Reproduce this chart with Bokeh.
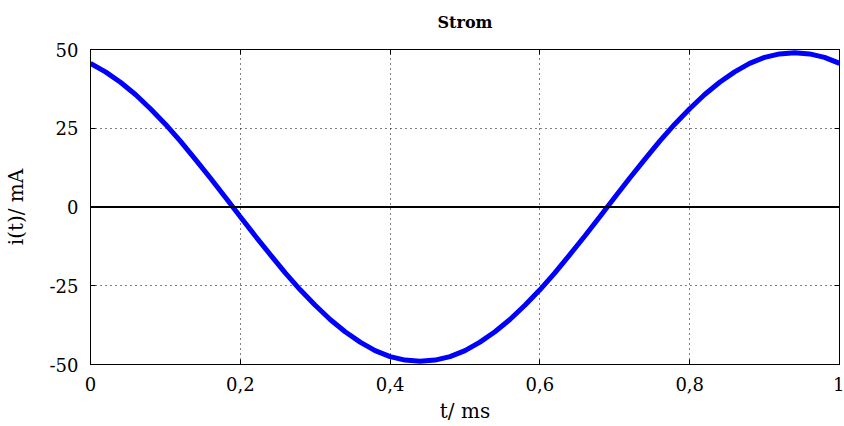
from bokeh.plotting import figure
from bokeh.models import Range1d, FixedTicker, LinearAxis, Span
from bokeh.embed import file_html
from bokeh.resources import INLINE

# Data
t_ms = [0.00, 0.02, 0.04, 0.06, 0.08, 0.10, 0.12, 0.14, 0.16, 0.18,
        0.20, 0.22, 0.24, 0.26, 0.28, 0.30, 0.32, 0.34, 0.36, 0.38,
        0.40, 0.42, 0.44, 0.46, 0.48, 0.50, 0.52, 0.54, 0.56, 0.58,
        0.60, 0.62, 0.64, 0.66, 0.68, 0.70, 0.72, 0.74, 0.76, 0.78,
        0.80, 0.82, 0.84, 0.86, 0.88, 0.90, 0.92, 0.94, 0.96, 0.98, 1.00]
i_mA = [45.6, 42.9, 39.6, 35.7, 31.2, 26.3, 20.9, 15.1, 9.2, 3.1,
        -3.1, -9.2, -15.1, -20.9, -26.3, -31.2, -35.7, -39.6, -42.9, -45.6,
        -47.5, -48.6, -49.0, -48.6, -47.5, -45.6, -42.9, -39.6, -35.7, -31.2,
        -26.3, -20.9, -15.1, -9.2, -3.1, 3.1, 9.2, 15.1, 20.9, 26.3,
        31.2, 35.7, 39.6, 42.9, 45.6, 47.5, 48.6, 49.0, 48.6, 47.5, 45.6]

x_ticks = [0, 0.2, 0.4, 0.6, 0.8, 1]
x_tick_labels = ["0", "0,2", "0,4", "0,6", "0,8", "1"]
y_ticks = [-50, -25, 0, 25, 50]
y_tick_labels = ["-50", "-25", "0", "25", "50"]
title_text = "Strom"
x_label = "t/ ms"
y_label = "i(t)/ mA"

FONT = "DejaVu Serif"

p = figure(width=844, height=426, output_backend="svg", toolbar_location=None,
           x_range=Range1d(0, 1), y_range=Range1d(-50, 50),
           min_border_left=90, min_border_right=5, min_border_top=49, min_border_bottom=62)
p.background_fill_color = "white"
p.border_fill_color = "white"
p.outline_line_color = "black"
p.outline_line_width = 1

p.title.text = title_text
p.title.align = "center"
p.title.text_font = FONT
p.title.text_font_style = "bold"
p.title.text_font_size = "16px"
p.title.text_color = "black"

def style_axis(ax, ticks, labels, show_labels):
    ax.ticker = FixedTicker(ticks=ticks)
    ax.major_tick_in = 5
    ax.major_tick_out = 0
    ax.minor_tick_in = 0
    ax.minor_tick_out = 0
    ax.axis_line_color = "black"
    ax.major_tick_line_color = "black"
    ax.major_label_text_font = FONT
    ax.major_label_text_color = "black"
    ax.major_label_text_font_size = "18px"
    ax.axis_label_text_font = FONT
    ax.axis_label_text_font_size = "20px"
    ax.axis_label_text_font_style = "normal"
    ax.axis_label_text_color = "black"
    if show_labels:
        ax.major_label_overrides = {t: l for t, l in zip(ticks, labels)}
        ax.major_label_standoff = 12
    else:
        ax.major_label_overrides = {t: "" for t in ticks}
        ax.major_label_standoff = 0

style_axis(p.xaxis[0], x_ticks, x_tick_labels, True)
style_axis(p.yaxis[0], y_ticks, y_tick_labels, True)
p.xaxis[0].axis_label = x_label
p.xaxis[0].axis_label_standoff = 5
p.yaxis[0].axis_label = y_label
p.yaxis[0].axis_label_standoff = 19

top_ax = LinearAxis()
right_ax = LinearAxis()
style_axis(top_ax, x_ticks, x_tick_labels, False)
style_axis(right_ax, y_ticks, y_tick_labels, False)
top_ax.major_label_overrides = {t: " " for t in x_ticks}
top_ax.major_label_text_font_size = "9px"
top_ax.major_label_standoff = 0
p.add_layout(top_ax, "above")
p.add_layout(right_ax, "right")

p.xgrid.ticker = FixedTicker(ticks=x_ticks)
p.ygrid.ticker = FixedTicker(ticks=y_ticks)
for g in (p.xgrid[0], p.ygrid[0]):
    g.grid_line_color = "black"
    g.grid_line_dash = "1 4"
    g.grid_line_width = 1

p.add_layout(Span(location=0, dimension="width", line_color="black", line_width=2))

p.line(t_ms, i_mA, line_color="#0000ff", line_width=5)

open("out.html", "w").write(file_html(p, INLINE))
